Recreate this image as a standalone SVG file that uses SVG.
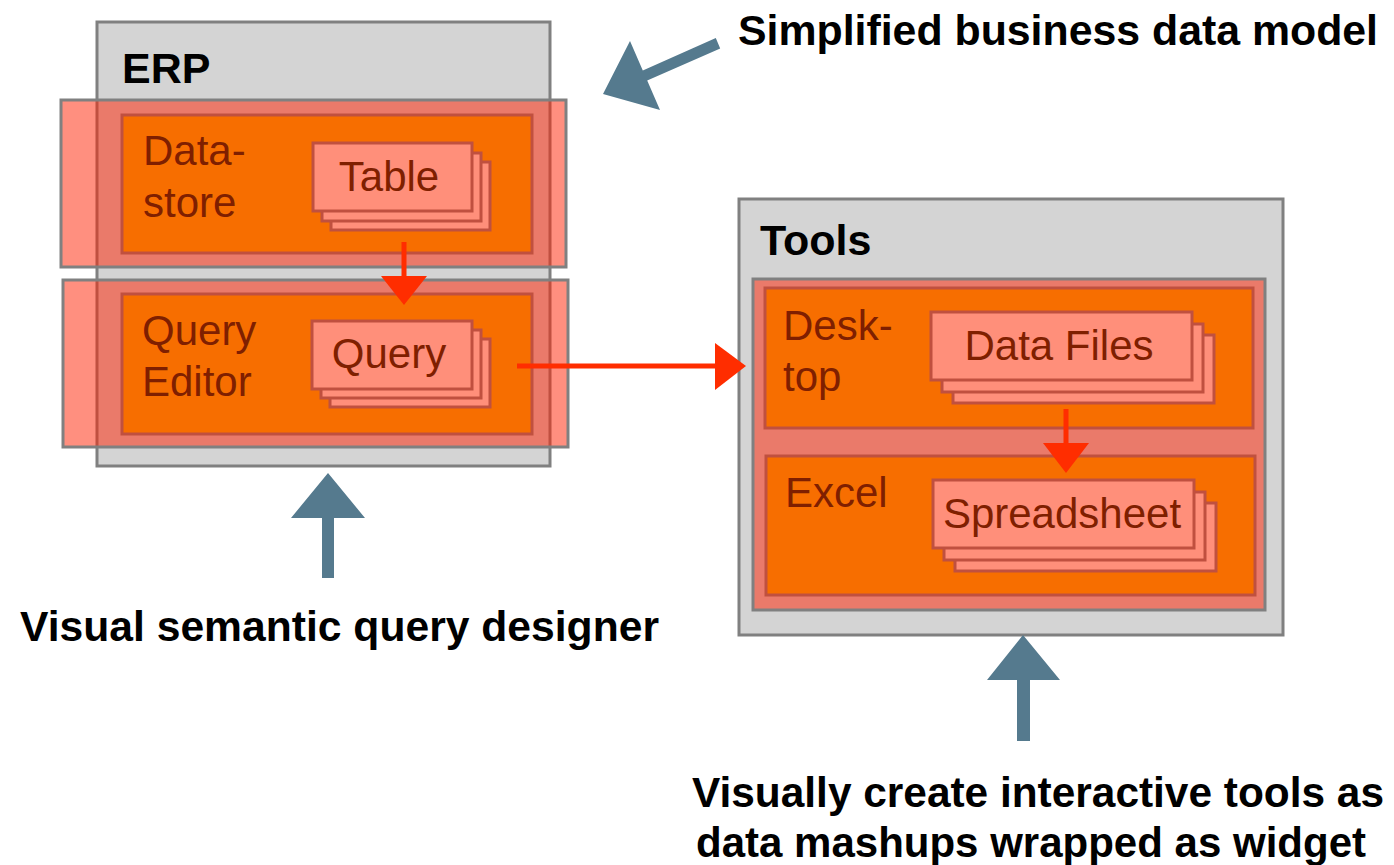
<svg xmlns="http://www.w3.org/2000/svg" width="1394" height="865" viewBox="0 0 1394 865">
  <style>
    .frame { fill: #d4d4d4; stroke: #808080; stroke-width: 3; }
    .band { fill: #ff2000; fill-opacity: 0.5; stroke: #808080; stroke-width: 3; stroke-opacity: 1; }
    .store { fill: #f76e00; stroke: #c0503f; stroke-width: 3; }
    .sheet { fill: #ff8f7a; stroke: #c0503f; stroke-width: 3; }
    .title { font-family: "Liberation Sans", Arial, sans-serif; font-weight: bold; font-size: 43px; fill: #000000; }
    .label { font-family: "Liberation Sans", Arial, sans-serif; font-size: 42px; fill: #7f1f00; }
    .mid { text-anchor: middle; }
    .flow { stroke: #ff2d00; stroke-width: 5; fill: none; }
    .head { fill: #ff2d00; }
    .pointer { fill: #557a8e; }
  </style>

  <!-- ERP system container -->
  <g id="erp">
    <rect class="frame" x="97" y="22" width="453" height="444"/>
    <text class="title" x="122" y="83">ERP</text>
  </g>

  <!-- Datastore layer -->
  <g id="datastore">
    <rect class="band" x="61" y="100" width="505" height="167"/>
    <rect class="store" x="122" y="115" width="410" height="138"/>
    <text class="label" x="143" y="165">Data-</text>
    <text class="label" x="143" y="217">store</text>
  </g>

  <g id="table">
    <rect class="sheet" x="331" y="162" width="159" height="68"/>
    <rect class="sheet" x="322" y="153" width="159" height="68"/>
    <rect class="sheet" x="313" y="143" width="159" height="68"/>
    <text class="label mid" x="389" y="191">Table</text>
  </g>

  <!-- Query editor layer -->
  <g id="query-editor">
    <rect class="band" x="63" y="280" width="505" height="167"/>
    <rect class="store" x="122" y="294" width="410" height="140"/>
    <text class="label" x="142" y="345">Query</text>
    <text class="label" x="142" y="396">Editor</text>
  </g>

  <g id="query">
    <rect class="sheet" x="330" y="339" width="160" height="68"/>
    <rect class="sheet" x="321" y="330" width="160" height="68"/>
    <rect class="sheet" x="312" y="321" width="160" height="68"/>
    <text class="label mid" x="389" y="368">Query</text>
  </g>

  <!-- Tools container -->
  <g id="tools">
    <rect class="frame" x="739" y="199" width="544" height="436"/>
    <text class="title" x="760" y="255">Tools</text>
    <rect class="band" x="753" y="279" width="512" height="331"/>
  </g>

  <g id="desktop">
    <rect class="store" x="765" y="288" width="488" height="140"/>
    <text class="label" x="783" y="340">Desk-</text>
    <text class="label" x="783" y="391">top</text>
  </g>

  <g id="data-files">
    <rect class="sheet" x="953" y="335" width="261" height="68"/>
    <rect class="sheet" x="942" y="324" width="261" height="68"/>
    <rect class="sheet" x="931" y="312" width="261" height="68"/>
    <text class="label mid" x="1059" y="360">Data Files</text>
  </g>

  <g id="excel">
    <rect class="store" x="766" y="456" width="489" height="139"/>
    <text class="label" x="785" y="507">Excel</text>
  </g>

  <g id="spreadsheet">
    <rect class="sheet" x="955" y="503" width="261" height="68"/>
    <rect class="sheet" x="944" y="492" width="261" height="68"/>
    <rect class="sheet" x="933" y="480" width="261" height="68"/>
    <text class="label mid" x="1062" y="528">Spreadsheet</text>
  </g>

  <!-- Data flow connectors -->
  <g id="connectors">
    <line class="flow" x1="404" y1="242" x2="404" y2="280"/>
    <polygon class="head" points="381,276 427,276 404,305"/>
    <line class="flow" x1="517" y1="366" x2="718" y2="366"/>
    <polygon class="head" points="715,343 746,366 715,390"/>
    <line class="flow" x1="1066" y1="409" x2="1066" y2="446"/>
    <polygon class="head" points="1043,443 1089,443 1066,473"/>
  </g>

  <!-- Callout pointers -->
  <g id="pointers">
    <polygon class="pointer" points="603,94 630,41 642.8,70.5 715.8,38 720.2,48.5 647.2,80.5 660,110"/>
    <polygon class="pointer" points="328,473 365,518 334,518 334,578 322,578 322,518 291,518"/>
    <polygon class="pointer" points="1023,635 1060,680 1030,680 1030,741 1017,741 1017,680 987,680"/>
  </g>

  <!-- Callout captions -->
  <g id="captions">
    <text class="title" x="738" y="45" textLength="640" lengthAdjust="spacingAndGlyphs">Simplified business data model</text>
    <text class="title" x="20" y="641" textLength="639" lengthAdjust="spacingAndGlyphs">Visual semantic query designer</text>
    <text class="title" x="692" y="807" textLength="692" lengthAdjust="spacingAndGlyphs">Visually create interactive tools as</text>
    <text class="title" x="696" y="857" textLength="670" lengthAdjust="spacingAndGlyphs">data mashups wrapped as widget</text>
  </g>
</svg>
